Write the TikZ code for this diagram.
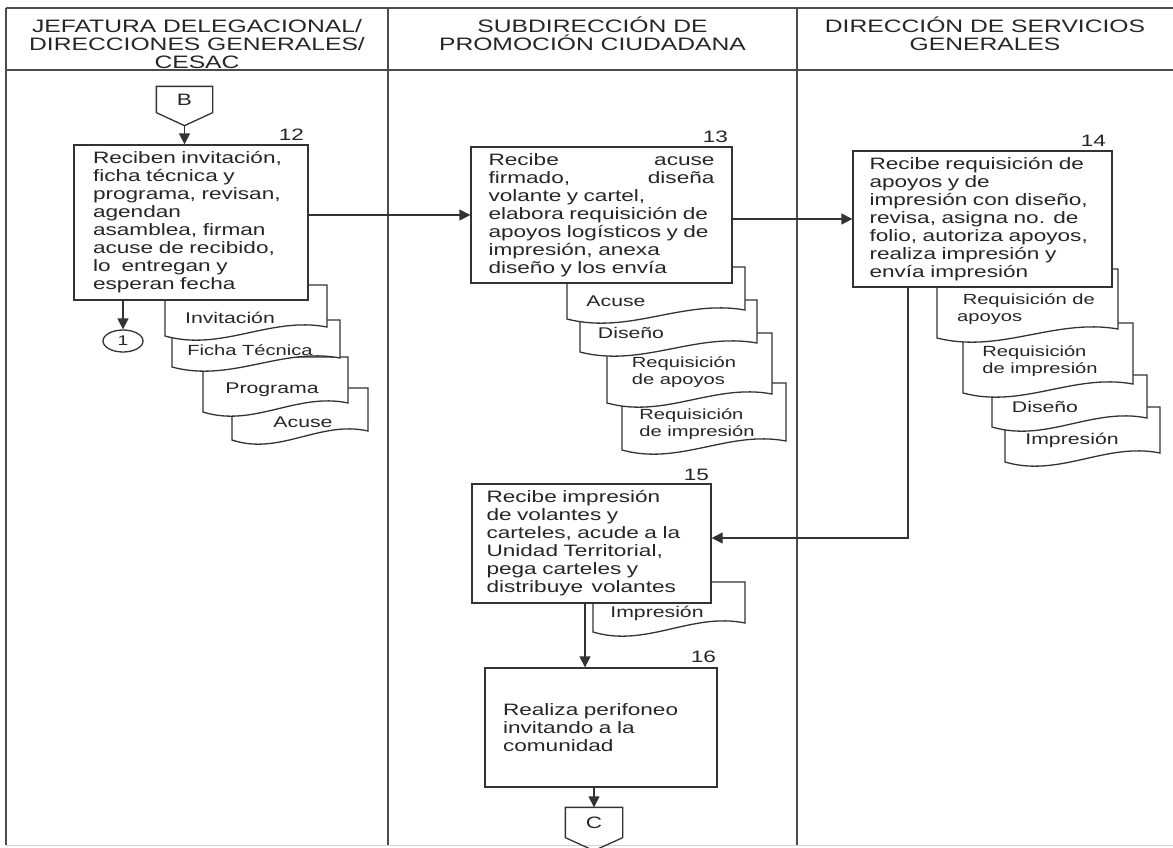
\documentclass[tikz,border=0pt]{standalone}
\usepackage{fontspec}
\setmainfont{Liberation Sans}[FakeStretch=1.37]
\usetikzlibrary{arrows.meta,shapes.geometric}

% documento con borde inferior ondulado: [estilo]{nombre}{x0}{x1}{ysup}{yinf}{xt}{yt}{texto}
\newcommand{\documento}[9][]{%
  \draw[doc] (#4,#5) -- (#3,#5) -- (#3,#6)
    .. controls ({#3+0.35*(#4-#3)},{#6+16}) and ({#3+0.65*(#4-#3)},{#6-20}) .. ({#4},{#6-9}) -- cycle;
  \node[doctext,#1] (#2) at (#7,#8) {#9};}

\begin{document}
\begin{tikzpicture}[x=1pt, y=-1pt, >={Triangle[length=11pt,width=11pt]}, line width=1.3pt, color=black!80,
    every node/.style={font=\fontsize{16.5}{18}\selectfont, text=black!85},
    proc/.style={draw, fill=white, align=left, inner sep=0pt},
    doc/.style={draw, fill=white},
    doctext/.style={font=\fontsize{15.5}{17}\selectfont, align=left, inner sep=0pt},
    docsm/.style={font=\fontsize{14.7}{17}\selectfont},
    num/.style={anchor=base east, inner sep=0pt},
    header/.style={anchor=north, align=center, inner sep=0pt, font=\fontsize{18}{18}\selectfont},
    frame/.style={draw=black!70, line width=1.7pt}]
  \useasboundingbox (0,0) rectangle (1173,847);

  % 1. marco y encabezados
  \draw[frame] (6,8) -- (1173,8);
  \draw[frame] (6,70) -- (1173,70);
  \draw[frame] (6,8) -- (6,845);
  \draw[frame] (388,8) -- (388,845);
  \draw[frame] (797,8) -- (797,845);
  \draw[gray!35, line width=1pt] (6,845) -- (1173,845);
  \node[header] (h1) at (197,15) {\rule{0pt}{17pt}JEFATURA DELEGACIONAL/\\DIRECCIONES GENERALES/\\CESAC};
  \node[header] (h2) at (592.5,15) {\rule{0pt}{17pt}SUBDIRECCIÓN DE\\PROMOCIÓN CIUDADANA};
  \node[header] (h3) at (985,15) {\rule{0pt}{17pt}DIRECCIÓN DE SERVICIOS\\GENERALES};

  % 2. documentos (los de abajo primero)
  \documento{d12d}{232}{368}{388}{440}{303}{422}{Acuse}
  \documento{d12c}{203}{348}{357}{412}{272}{390}{Programa}
  \documento[docsm]{d12b}{172}{340}{320}{367}{250}{350}{Ficha Técnica}
  \documento{d12a}{165}{327}{285}{336}{230}{318}{Invitación}

  \documento[docsm]{d13d}{622}{786}{383}{450}{697}{424}{Requisición\\de impresión}
  \documento[docsm]{d13c}{607}{772}{333}{403}{684}{372}{Requisición\\de apoyos}
  \documento{d13b}{580}{757}{300}{352}{631}{333}{Diseño}
  \documento{d13a}{567}{745}{267}{319}{616}{301}{Acuse}

  \documento{d14d}{1005}{1160}{407}{462}{1072}{440}{Impresión}
  \documento{d14c}{992}{1147}{375}{427}{1045}{407}{Diseño}
  \documento[docsm]{d14b}{963}{1133}{323}{393}{1040}{361}{Requisición\\de impresión}
  \documento[docsm]{d14a}{937}{1118}{269}{338}{1026}{309}{\ Requisición de\\apoyos}

  \documento{d15a}{593}{745}{582}{632}{657}{613}{Impresión}

  % 3. actividades
  \node[proc, minimum width=234pt, minimum height=155pt, text width=196pt] (b12) at (191,222.5)
    {Reciben invitación,\\ficha técnica y\\programa, revisan,\\agendan\\asamblea, firman\\acuse de recibido,\\lo \ entregan y\\esperan fecha};
  \node[proc, minimum width=261pt, minimum height=136pt, text width=226pt] (b13) at (601.5,215)
    {Recibe \hfill acuse\\firmado, \hfill diseña\\volante y cartel,\\elabora requisición de\\apoyos logísticos y de\\impresión, anexa\\diseño y los envía};
  \node[proc, minimum width=259pt, minimum height=136pt, text width=226pt] (b14) at (982.5,219)
    {Recibe requisición de\\apoyos y de\\impresión con diseño,\\revisa, asigna no. de\\folio, autoriza apoyos,\\realiza impresión y\\envía impresión};
  \node[proc, minimum width=239pt, minimum height=119pt, text width=210pt] (b15) at (591.5,543.5)
    {Recibe impresión\\de volantes y\\carteles, acude a la\\Unidad Territorial,\\pega carteles y\\distribuye\hspace{3pt} volantes};
  \node[proc, minimum width=232pt, minimum height=119pt, text width=196pt] (b16) at (601,727.5)
    {Realiza perifoneo\\invitando a la\\comunidad};

  \node[num] (n12) at ([xshift=-4pt, yshift=4pt]b12.north east) {12};
  \node[num] (n13) at ([xshift=-4pt, yshift=4pt]b13.north east) {13};
  \node[num] (n14) at ([xshift=-6pt, yshift=4pt]b14.north east) {14};
  \node[num] (n15) at ([xshift=-2pt, yshift=3pt]b15.north east) {15};
  \node[num] (n16) at ([xshift=-1pt, yshift=5pt]b16.north east) {16};

  % 4. conectores
  \node[minimum width=55pt, minimum height=25pt, inner sep=0pt] (conB) at (184.5,99.5) {B};
  \draw (conB.north west) -- (conB.north east) -- (conB.south east) -- ([yshift=-13pt]conB.south) -- (conB.south west) -- cycle;
  \node[minimum width=56pt, minimum height=29pt, inner sep=0pt] (conC) at (594,822.5) {C};
  \draw (conC.north west) -- (conC.north east) -- (conC.south east) -- ([yshift=-13pt]conC.south) -- (conC.south west) -- cycle;
  \node[draw, ellipse, minimum width=40pt, minimum height=22pt, inner sep=0pt, font=\fontsize{14}{14}\selectfont] (con1) at (123,341) {1};

  % 5. flechas
  \draw[->] ([yshift=-13pt]conB.south) -- (conB.south |- b12.north);
  \draw[->] (con1.north |- b12.south) -- (con1.north);
  \draw[->] (b12.east |- b13.west) -- (b13.west);
  \draw[->] (b13.east |- b14.west) -- (b14.west);
  \coordinate (c14) at (908,538);
  \draw[->] (c14 |- b14.south) -- (c14) -- (c14 -| b15.east);
  \coordinate (c15) at ([xshift=-6.5pt]b15.south);
  \draw[->] (c15) -- (c15 |- b16.north);
  \draw[->] (conC.north |- b16.south) -- (conC.north);
\end{tikzpicture}
\end{document}
